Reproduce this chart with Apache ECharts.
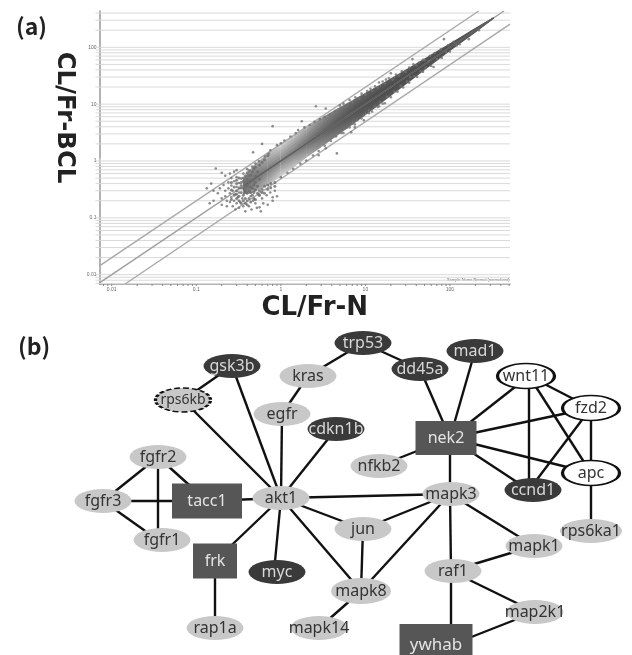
<!DOCTYPE html>
<html>
<head>
<meta charset="utf-8">
<style>
html,body{margin:0;padding:0;background:#fff;overflow:hidden}
#c{width:632px;height:655px;filter:blur(0.55px)}
</style>
<script src="https://cdn.jsdelivr.net/npm/echarts@6/dist/echarts.min.js"></script>
</head>
<body>
<div id="c"></div>
<script>
// ---------- panel (a) data ----------
const xDecades = [0.01, 0.1, 1, 10, 100];
const yDecades = [0.01, 0.1, 1, 10, 100];
const yGridValues = [0.007,0.008,0.009,0.01,0.02,0.03,0.04,0.05,0.06,0.07,0.08,0.09,0.1,0.2,0.3,0.4,0.5,0.6,0.7,0.8,0.9,1,2,3,4,5,6,7,8,9,10,20,30,40,50,60,70,80,90,100,200,300,400];
const xMinorValues = [0.008,0.009,0.01,0.02,0.03,0.04,0.05,0.06,0.07,0.08,0.09,0.1,0.2,0.3,0.4,0.5,0.6,0.7,0.8,0.9,1,2,3,4,5,6,7,8,9,10,20,30,40,50,60,70,80,90,100,200,300,400,500];
const unityLine = [[0.00717,0.00717],[435,435]];
const coreLine = [[0.36,0.36],[330,330]];
const upperFold = [[0.00717,0.0143],[219,435]];
const lowerFold = [[0.0144,0.00686],[513,256]];

// dense part of the cloud, read station by station: x, then y/x at its upper and lower edge
const cloudX    = [0.36,0.45,0.7,1,1.4,2,3,4.5,7,10,15,22,33,50,75,100,150,220,330];
const cloudUp   = [1.35,1.7,1.95,2.0,2.0,1.95,1.9,1.8,1.68,1.58,1.48,1.4,1.34,1.27,1.22,1.18,1.13,1.09,1.03];
const cloudDown = [0.72,0.6,0.53,0.53,0.55,0.57,0.58,0.6,0.62,0.64,0.67,0.71,0.74,0.79,0.83,0.86,0.89,0.92,0.97];
// grey level at the outer edge and along the middle of the cloud at each station
const shadeOuter = [125,145,180,205,190,170,140,120,105,95,90,88,85,85,85,85,85,85,85];
const shadeInner = [105,110,120,125,118,105,95,85,78,75,72,70,70,70,70,70,70,70,70];

const sparseX = [0.133,0.144,0.15,0.16,0.16,0.17,0.18,0.19,0.2,0.2,0.2,0.21,0.22,0.22,0.22,0.23,0.23,0.24,0.24,0.25,0.25,0.25,0.26,0.26,0.26,0.27,0.27,0.28,0.28,0.28,0.29,0.29,0.3,0.3,0.3,0.3,0.31,0.32,0.32,0.32,0.33,0.34,0.34,0.35,0.36,0.36,0.37,0.38,0.38,0.4,0.4,0.42,0.42,0.44,0.45,0.46,0.47,0.47,0.5,0.5,0.52,0.55,0.55,0.56,0.58,0.6,0.6,0.62,0.65,0.68,0.7,0.72,0.75,0.75,0.8,0.8,0.85,0.9,
 0.8,1.77,2.6,3.4,5,85,36,20,17.5,14.5,4.6,7.5,9.6,14.5,17,34,56,64,167,220,6.8,3.4,2.8,
 0.9,1,1.1,1.3,1.5,1.6,1.9,2.2,2.5,2.9,3.3,3.8,4.4,5,6,7,8.5,10,12,14,17,21,25,30,40,50,
 1,1.2,1.4,1.7,2,2.4,2.8,3.3,3.9,4.5,5.2,6,7,8,9.5,11,13,15,18,22,26,31,38,45,52,70,90,120,
 5.5,6.5,7.6,9,10.5,11.5,13,16,19,23,27,33,37,43,48,58,66,78,95,110,
 5.5,6.5,7.5,9,11,12,14,16,20,24,28,33,41,48,60,80,100,130];
const sparseY = [0.33,0.18,0.4,0.3,0.2,0.74,0.27,0.33,0.22,0.17,0.62,0.38,0.3,0.24,0.55,0.2,0.16,0.42,0.33,0.27,0.19,0.6,0.5,0.37,0.23,0.3,0.16,0.44,0.2,0.65,0.26,0.14,0.52,0.35,0.18,0.69,0.23,0.41,0.28,0.15,0.19,0.49,0.33,0.22,0.16,0.6,0.27,0.13,0.42,0.2,0.72,0.16,0.55,0.24,0.14,0.8,0.2,1.42,0.18,0.9,0.15,0.25,1.0,0.153,0.13,0.22,2,0.18,1.2,0.25,0.17,1.35,0.28,1.55,0.2,0.23,0.3,0.24,
 4.1,5,9.2,8.4,9.5,139,62,35,27,24,1.36,3.9,5.2,9.2,10.4,30,57,45,139,200,3.2,1.67,1.26,
 1.9,2.05,2.3,2.7,3.1,3.5,3.9,4.3,4.9,5.4,5.9,6.5,7.5,8.2,9.4,10.8,12.5,14.5,17,19.5,23,27,32,37,48,60,
 0.52,0.62,0.73,0.9,1.02,1.25,1.5,1.85,2.25,2.7,3.1,3.8,4.5,5.2,6.3,7.7,9,10.8,13.5,16.5,21,25,31,38,44,62,82,108,
 10.2,11.8,13.2,15.3,17,18.6,20.6,25,28.5,33,38,44,50,54,60,71,79,92,110,125,
 3.1,3.9,4.4,5.6,6.9,7.4,8.9,10.2,13.2,16.6,19.6,23.8,30,37,47,65,84,113];
// thick knot of points at the low end of the cloud
const knotX = [0.26,0.26,0.26,0.28,0.28,0.3,0.3,0.3,0.3,0.3,0.32,0.32,0.32,0.32,0.34,0.34,0.34,0.34,0.36,0.36,0.36,0.36,0.36,0.38,0.38,0.38,0.38,0.38,0.4,0.4,0.4,0.4,0.4,0.42,0.42,0.42,0.42,0.44,0.44,0.44,0.44,0.46,0.46,0.46,0.46,0.48,0.48,0.48,0.48,0.5,0.5,0.5,0.5,0.5,0.53,0.53,0.53,0.56,0.56,0.56,0.56,0.6,0.6,0.6,0.64,0.64,0.64,0.7,0.7,0.7,0.76,0.76,0.85,0.85];
const knotY = [0.31,0.21,0.42,0.35,0.25,0.4,0.3,0.22,0.26,0.46,0.34,0.24,0.2,0.5,0.42,0.28,0.18,0.37,0.5,0.33,0.25,0.2,0.44,0.3,0.22,0.55,0.37,0.18,0.48,0.27,0.36,0.62,0.17,0.42,0.3,0.22,0.68,0.56,0.35,0.19,0.28,0.46,0.64,0.25,0.33,0.72,0.38,0.22,0.28,0.55,0.42,0.31,0.78,0.21,0.65,0.27,0.36,0.85,0.48,0.3,0.25,0.95,0.32,0.28,0.36,0.27,1.05,0.38,0.32,1.25,0.4,0.34,0.42,0.36];

// ---------- panel (b) data ----------
const hubGenes   = ['nek2','tacc1','frk','ywhab'];
const darkGenes  = ['gsk3b','trp53','dd45a','mad1','cdkn1b','ccnd1','myc'];
const whiteGenes = ['wnt11','fzd2','apc'];
const dashedGenes= ['rps6kb'];
const greyGenes  = ['kras','egfr','nfkb2','mapk3','mapk1','jun','raf1','mapk8','map2k1','mapk14','rps6ka1','fgfr2','fgfr3','fgfr1','akt1','rap1a'];
const geneEdges = [
 ['gsk3b','rps6kb'],['gsk3b','akt1'],['rps6kb','akt1'],['egfr','akt1'],['kras','egfr'],['kras','trp53'],['trp53','dd45a'],['dd45a','nek2'],['mad1','nek2'],['cdkn1b','akt1'],
 ['nek2','nfkb2'],['nek2','wnt11'],['nek2','fzd2'],['nek2','apc'],['nek2','ccnd1'],['nek2','mapk3'],['wnt11','fzd2'],['wnt11','apc'],['wnt11','ccnd1'],['fzd2','ccnd1'],['fzd2','apc'],['apc','rps6ka1'],
 ['akt1','mapk3'],['akt1','tacc1'],['akt1','jun'],['akt1','frk'],['akt1','myc'],['akt1','mapk8'],['fgfr2','fgfr3'],['fgfr2','fgfr1'],['fgfr2','tacc1'],['fgfr3','tacc1'],['fgfr3','fgfr1'],['frk','rap1a'],
 ['mapk3','jun'],['mapk3','mapk8'],['mapk3','raf1'],['mapk3','mapk1'],['jun','mapk8'],['mapk8','mapk14'],['raf1','mapk1'],['raf1','map2k1'],['raf1','ywhab'],['map2k1','ywhab']
];

// ---------- layout of the network drawing (page pixels: where the edges meet, and how far the shape sits from there) ----------
const nodePlace = {
 gsk3b:[232,366],kras:[308,376],rps6kb:[183,400],egfr:[282,414],trp53:[363,343],dd45a:[420,369],mad1:[475,351],wnt11:[529,376],fzd2:[591,408],apc:[591,473],
 nek2:[450,438],cdkn1b:[336,429],nfkb2:[379,466],ccnd1:[529,490],rps6ka1:[591,531],mapk3:[450,494],mapk1:[534,546],jun:[363,529],raf1:[451,571],mapk8:[361,591],
 map2k1:[535,612],mapk14:[319,628],ywhab:[451,645],fgfr2:[158,457],fgfr3:[103,501],fgfr1:[158,540],tacc1:[207,501],akt1:[281,498],frk:[215,561],myc:[274,572],rap1a:[215,628]
};
const shapeShift = {nek2:[-4,0],ywhab:[-15,0],wnt11:[-3,0],ccnd1:[4,0],fgfr1:[4,0],mapk3:[1,0],raf1:[2,0],myc:[3,0]};
const rectSize = {nek2:[61,34],tacc1:[70,35],frk:[44,35],ywhab:[73,42]};
const ELLIPSE = 'path://M0 -50A50 50 0 1 1 0 50A50 50 0 1 1 0 -50Z';

function styleOf(name){
  if (hubGenes.includes(name)) return {symbol:'rect',symbolSize:rectSize[name],itemStyle:{color:'#565656',borderWidth:0},label:{color:'#e4e4e4',fontSize:name==='ywhab'?17:16}};
  if (darkGenes.includes(name)) return {symbol:ELLIPSE,symbolSize:[57,24],itemStyle:{color:'#3a3a3a',borderWidth:0},label:{color:'#d8d8d8',fontSize:16}};
  if (whiteGenes.includes(name)) return {symbol:ELLIPSE,symbolSize:[57,25],itemStyle:{color:'#fff',borderColor:'#111',borderWidth:2.2},label:{color:'#333',fontSize:16}};
  if (dashedGenes.includes(name)) return {symbol:ELLIPSE,symbolSize:[55,24],itemStyle:{color:'#c8c8c8',borderColor:'#111',borderWidth:2.2,borderType:[4,2]},label:{color:'#333',fontSize:14}};
  return {symbol:ELLIPSE,symbolSize:name==='rps6ka1'?[62,24]:(name==='mapk8'?[60,26]:[57,24]),itemStyle:{color:'#c8c8c8',borderWidth:0},label:{color:'#333',fontSize:16}};
}
const allGenes = [...hubGenes,...darkGenes,...whiteGenes,...dashedGenes,...greyGenes];
const graphNodes = allGenes.map(n=>Object.assign({name:n,value:nodePlace[n],symbolOffset:shapeShift[n]||[0,0]},styleOf(n)));
const graphLinks = geneEdges.map(e=>({source:e[0],target:e[1]}));

// ---------- renderers ----------
function gridLine(params,api){
  const cs=params.coordSys, p=api.coord([1,api.value(0)]);
  return {type:'line',shape:{x1:cs.x-4,y1:p[1],x2:cs.x+cs.width,y2:p[1]},style:{stroke:'#d9d9d9',lineWidth:1},silent:true};
}
function xTick(params,api){
  const cs=params.coordSys, p=api.coord([api.value(0),1]);
  return {type:'line',shape:{x1:p[0],y1:cs.y+cs.height,x2:p[0],y2:cs.y+cs.height+2},style:{stroke:'#888',lineWidth:1},silent:true};
}
const cloudLevels=[1,0.82,0.64,0.46,0.28,0.12];
function cloudSegment(params,api){
  const i=api.value(0), j=i+1;
  if (j>=cloudX.length) return null;
  return {type:'group',children:cloudLevels.map(f=>{
    const edge=(k,r)=>api.coord([cloudX[k],cloudX[k]*Math.pow(r,f)]);
    const grey=k=>{const g=Math.round(shadeInner[k]+(shadeOuter[k]-shadeInner[k])*f);return `rgb(${g},${g},${g})`;};
    const pts=[edge(i,cloudUp[i]),edge(j,cloudUp[j]),edge(j,cloudDown[j]),edge(i,cloudDown[i])];
    const fill=new echarts.graphic.LinearGradient(0,0,1,0,[{offset:0,color:grey(i)},{offset:1,color:grey(j)}]);
    return {type:'polygon',shape:{points:pts},style:{fill:fill,lineWidth:0},silent:true};
  })};
}

// ---------- chart ----------
const lf='"DejaVu Sans"';
const chart=echarts.init(document.getElementById('c'),null,{renderer:'canvas'});
const axisBase={type:'log',logBase:10,splitLine:{show:false},minorTick:{show:false},minorSplitLine:{show:false},
  axisLine:{show:true,onZero:false,lineStyle:{color:'#999',width:1.5}},axisTick:{show:false}};
const decadeFmt=list=>v=>{const hit=list.find(d=>Math.abs(Math.log10(v)-Math.log10(d))<0.01);return hit===undefined?'':String(hit);};
chart.setOption({
  backgroundColor:'#fff',
  animation:false,
  title:[
    {text:'(a)',left:11,top:10,textStyle:{fontFamily:'"Noto Sans CJK JP"',fontSize:23,fontWeight:'bold',color:'#222'}},
    {text:'(b)',left:13,top:330,textStyle:{fontFamily:'"Noto Sans CJK JP"',fontSize:23,fontWeight:'bold',color:'#222'}}
  ],
  grid:[
    {left:99.5,top:11,width:410.5,height:273},
    {left:0,top:320,width:632,height:335}
  ],
  xAxis:[
    Object.assign({},axisBase,{gridIndex:0,min:0.00717,max:513,
      name:'CL/Fr-N',nameLocation:'middle',nameGap:24,
      nameTextStyle:{fontFamily:lf,fontWeight:'bold',fontSize:26,color:'#222',padding:[0,0,0,20],verticalAlign:'middle'},
      axisLabel:{show:true,fontSize:5,color:'#666',margin:3,hideOverlap:false,showMinLabel:true,showMaxLabel:true,formatter:decadeFmt(xDecades)}}),
    {type:'value',gridIndex:1,min:0,max:632,show:false}
  ],
  yAxis:[
    Object.assign({},axisBase,{gridIndex:0,min:0.00686,max:435,
      name:'CL/Fr-BCL',nameLocation:'middle',nameGap:32,nameRotate:-90,
      nameTextStyle:{fontFamily:lf,fontWeight:'bold',fontSize:24.4,color:'#222',padding:[0,60,0,0],verticalAlign:'middle'},
      axisLabel:{show:true,fontSize:5,color:'#666',margin:3,hideOverlap:false,formatter:decadeFmt(yDecades)}}),
    {type:'value',gridIndex:1,min:320,max:655,inverse:true,show:false}
  ],
  graphic:[{type:'text',left:447,top:278,style:{text:'Sample Name Normal (normalized)',font:'4px "Liberation Sans"',fill:'#555'},silent:true}],
  series:[
    {type:'custom',xAxisIndex:0,yAxisIndex:0,coordinateSystem:'cartesian2d',z:1,renderItem:gridLine,data:yGridValues.map(v=>[v]),encode:{x:[],y:0},clip:false},
    {type:'custom',xAxisIndex:0,yAxisIndex:0,coordinateSystem:'cartesian2d',z:1,renderItem:xTick,data:xMinorValues.map(v=>[v]),encode:{x:0,y:[]},clip:false},
    {type:'custom',xAxisIndex:0,yAxisIndex:0,coordinateSystem:'cartesian2d',z:2,renderItem:cloudSegment,data:cloudX.map((x,i)=>[i]),encode:{x:[],y:[]}},
    {type:'line',xAxisIndex:0,yAxisIndex:0,z:3,data:upperFold,symbol:'none',lineStyle:{color:'#aaa',width:1.5},
      markArea:{silent:true,itemStyle:{color:'rgba(255,255,255,0.4)'},data:[[{yAxis:0.86},{yAxis:1.14}]]}},
    {type:'line',xAxisIndex:0,yAxisIndex:0,z:3,data:lowerFold,symbol:'none',lineStyle:{color:'#aaa',width:1.5}},
    {type:'line',xAxisIndex:0,yAxisIndex:0,z:4,data:unityLine,symbol:'none',lineStyle:{color:'#a0a0a0',width:1.5}},
    {type:'line',xAxisIndex:0,yAxisIndex:0,z:4,data:coreLine,symbol:'none',lineStyle:{color:'#5c5c5c',width:1.5}},
    {type:'scatter',xAxisIndex:0,yAxisIndex:0,z:5,symbolSize:2.6,itemStyle:{color:'#707070'},data:sparseX.map((x,i)=>[x,sparseY[i]])},
    {type:'scatter',xAxisIndex:0,yAxisIndex:0,z:5,symbolSize:3,itemStyle:{color:'#6a6a6a'},data:knotX.map((x,i)=>[x,knotY[i]])},
    {type:'graph',coordinateSystem:'cartesian2d',xAxisIndex:1,yAxisIndex:1,z:6,layout:'none',roam:false,
      data:graphNodes,links:graphLinks,
      lineStyle:{color:'#111',width:2.4,opacity:1,curveness:0},
      label:{show:true,position:'inside',fontFamily:'"Noto Sans"',fontSize:16},
      emphasis:{disabled:true}}
  ]
});
</script>
</body>
</html>
